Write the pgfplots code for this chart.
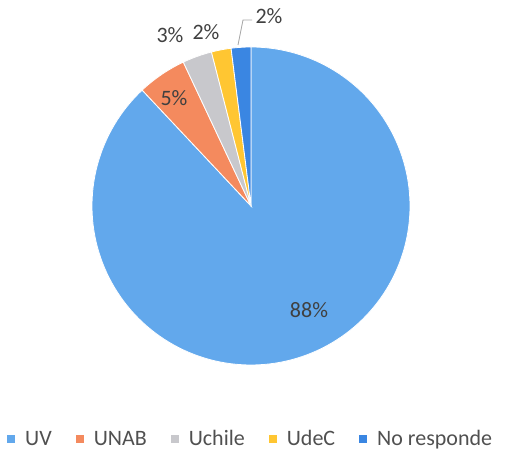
\documentclass[border=0pt]{standalone}
\usepackage{pgfplots}
\pgfplotsset{compat=1.18}
\usepackage{pgfplotstable}
\usepackage{fontspec}
\setmainfont{Carlito}
\definecolor{cUV}{RGB}{98,168,236}
\definecolor{cUNAB}{RGB}{244,138,94}
\definecolor{cUchile}{RGB}{200,200,204}
\definecolor{cUdeC}{RGB}{255,198,50}
\definecolor{cNR}{RGB}{58,134,226}
\definecolor{lbl}{RGB}{64,64,64}
\definecolor{legtext}{RGB}{80,80,80}

\pgfplotstableread{
name pct
UV 88
UNAB 5
Uchile 3
UdeC 2
NoResponde 2
}\piedata

\begin{document}
\begin{tikzpicture}
\pgfmathsetmacro\aA{90}
\pgfplotstablegetelem{0}{pct}\of\piedata \pgfmathsetmacro\aB{\aA-3.6*\pgfplotsretval}
\pgfplotstablegetelem{1}{pct}\of\piedata \pgfmathsetmacro\aC{\aB-3.6*\pgfplotsretval}
\pgfplotstablegetelem{2}{pct}\of\piedata \pgfmathsetmacro\aD{\aC-3.6*\pgfplotsretval}
\pgfplotstablegetelem{3}{pct}\of\piedata \pgfmathsetmacro\aE{\aD-3.6*\pgfplotsretval}
\pgfplotstablegetelem{4}{pct}\of\piedata \pgfmathsetmacro\aF{\aE-3.6*\pgfplotsretval}
\def\cx{251}\def\cy{246}\def\R{159}
\begin{axis}[
  width=505pt, height=452pt, scale only axis,
  xmin=0, xmax=505, ymin=0, ymax=452,
  hide axis, clip=false,
  legend image code/.code={\fill[#1, draw=none] (0pt,-4pt) rectangle (8pt,4pt); \path[draw=none, fill=none] (0pt,0pt) rectangle (18pt,0.1pt);},
  legend style={at={(axis cs:7,13)}, anchor=west, draw=none, fill=none,
    inner sep=0pt, legend columns=-1,
    nodes={inner sep=0pt},
    /tikz/every even column/.append style={column sep=24pt},
    /tikz/every odd column/.append style={column sep=0pt},
    font=\fontsize{22}{26}\selectfont, text=legtext},
]
\path[draw=none] (axis cs:0,0) rectangle (axis cs:505,452);
\addplot[fill=cUV, draw=white, line width=0.8pt, domain=\aB:\aA, samples=160, variable=\t, forget plot]
  ({\cx+\R*cos(\t)},{\cy+\R*sin(\t)}) -- (axis cs:\cx,\cy) -- cycle;
\addplot[fill=cUNAB, draw=white, line width=0.8pt, domain=\aC:\aB, samples=15, variable=\t, forget plot]
  ({\cx+\R*cos(\t)},{\cy+\R*sin(\t)}) -- (axis cs:\cx,\cy) -- cycle;
\addplot[fill=cUchile, draw=white, line width=0.8pt, domain=\aD:\aC, samples=10, variable=\t, forget plot]
  ({\cx+\R*cos(\t)},{\cy+\R*sin(\t)}) -- (axis cs:\cx,\cy) -- cycle;
\addplot[fill=cUdeC, draw=white, line width=0.8pt, domain=\aE:\aD, samples=8, variable=\t, forget plot]
  ({\cx+\R*cos(\t)},{\cy+\R*sin(\t)}) -- (axis cs:\cx,\cy) -- cycle;
\addplot[fill=cNR, draw=white, line width=0.8pt, domain=\aF:\aE, samples=8, variable=\t, forget plot]
  ({\cx+\R*cos(\t)},{\cy+\R*sin(\t)}) -- (axis cs:\cx,\cy) -- cycle;
\addplot[color=black!35, line width=0.8pt, forget plot] coordinates {(238,407) (243,432) (252,432)};
\tikzset{pl/.style={text=lbl, inner sep=1pt, font=\fontsize{22}{26}\selectfont}}
\node[pl] at (axis cs:309,142) {88\%};
\node[pl] at (axis cs:174,354) {5\%};
\node[pl] at (axis cs:170,417) {3\%};
\node[pl] at (axis cs:206,420) {2\%};
\node[pl] at (axis cs:269,436) {2\%};
\addlegendimage{fill=cUV}\addlegendentry{UV}
\addlegendimage{fill=cUNAB}\addlegendentry{UNAB}
\addlegendimage{fill=cUchile}\addlegendentry{Uchile}
\addlegendimage{fill=cUdeC}\addlegendentry{UdeC}
\addlegendimage{fill=cNR}\addlegendentry{No responde}
\end{axis}
\end{tikzpicture}
\end{document}
